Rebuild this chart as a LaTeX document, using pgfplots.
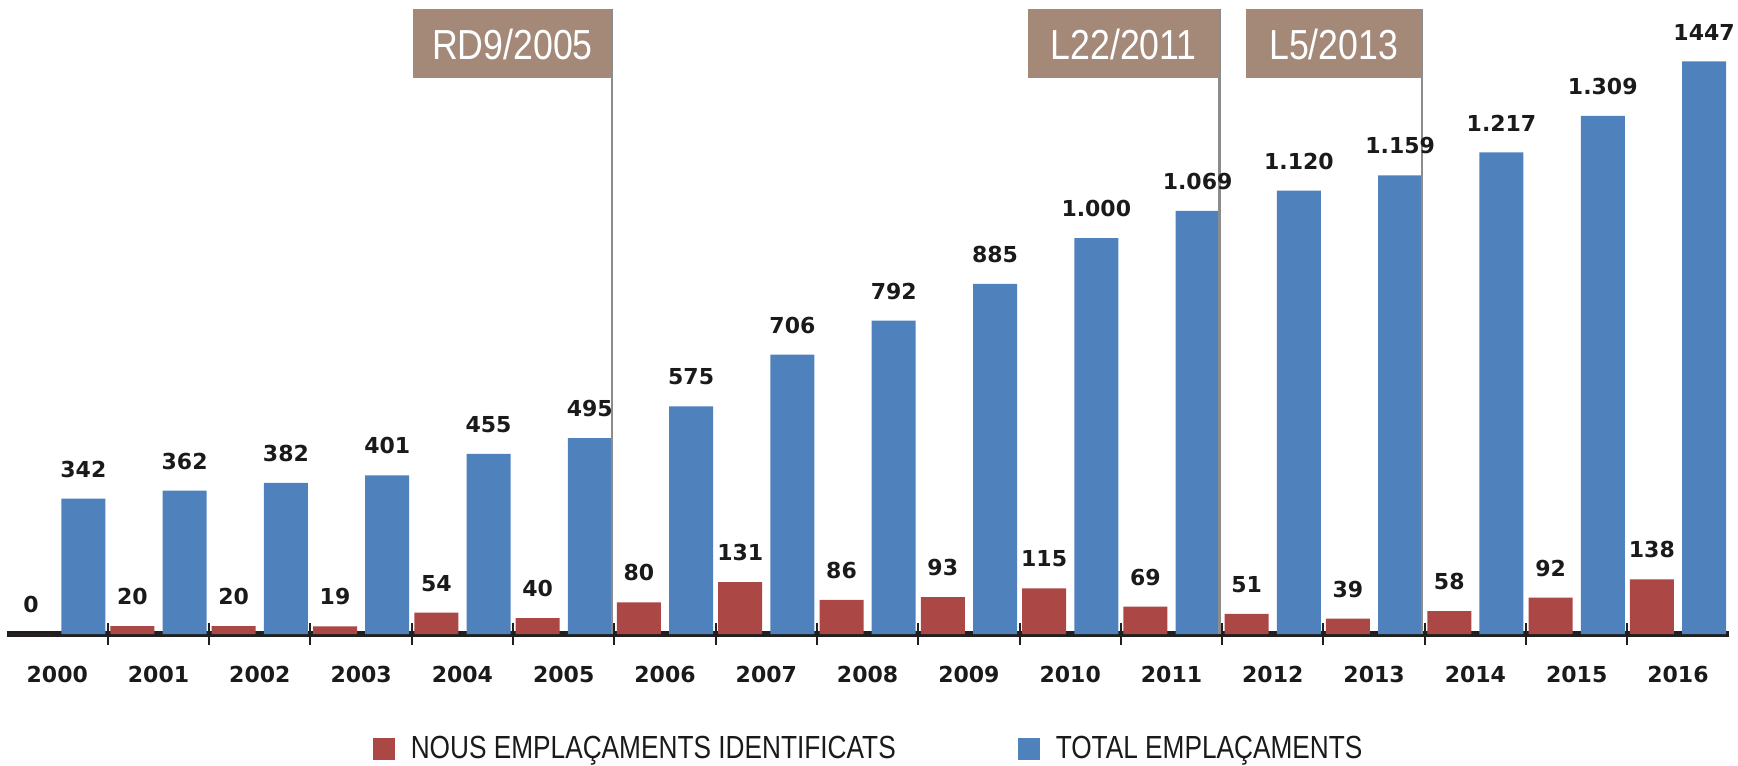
\documentclass[border=0pt]{standalone}
\usepackage{pgfplots}
\pgfplotsset{compat=1.18}
\usepackage{pgfplotstable}
\usepackage{graphicx}
\usepackage{fontspec}
\setmainfont{DejaVu Sans}
\newfontfamily\legfont{Liberation Sans}
\newfontfamily\boxfont[FakeStretch=0.85]{Liberation Sans}
\newcommand{\narrow}[1]{\scalebox{0.82}[1]{#1}}
\definecolor{newred}{HTML}{AB4745}
\definecolor{totblue}{HTML}{4F81BD}
\definecolor{boxbrown}{HTML}{A48979}
\definecolor{linegray}{HTML}{8C8C8C}
\definecolor{axisdark}{HTML}{1F1F1F}
\definecolor{txt}{HTML}{1A1A1A}
\pgfplotsset{sqlegend/.style={legend image code/.code={\fill[##1] (0pt,-5.5pt) rectangle (11pt,5.5pt);}}}

\pgfplotstableread{
x new newlab total totlab
0 0 0 342 342
1 20 20 362 362
2 20 20 382 382
3 19 19 401 401
4 54 54 455 455
5 40 40 495 495
6 80 80 575 575
7 131 131 706 706
8 86 86 792 792
9 93 93 885 885
10 115 115 1000 1.000
11 69 69 1069 1.069
12 51 51 1120 1.120
13 39 39 1159 1.159
14 58 58 1217 1.217
15 92 92 1309 1.309
16 138 138 1447 1447
}\datatable

\begin{document}
\begin{tikzpicture}
\useasboundingbox (0,0) rectangle (869pt,382.5pt);
\begin{axis}[
  at={(3.3pt,65.5pt)}, anchor=south west,
  scale only axis, width=861pt, height=317pt,
  xmin=-0.5, xmax=16.5, ymin=0, ymax=1602,
  clip=false,
  axis x line=bottom, axis y line=none,
  axis line style={-}, x axis line style={-, line width=3pt, color=axisdark},
  every outer x axis line/.append style={-},
  xtick={0,...,16},
  xticklabels={2000,2001,2002,2003,2004,2005,2006,2007,2008,2009,2010,2011,2012,2013,2014,2015,2016},
  minor xtick={0.5,1.5,...,15.5},
  major tick length=0pt, minor tick length=11pt, tick align=center,
  minor x tick style={line width=1pt, color=axisdark},
  xticklabel style={font=\bfseries\fontsize{11}{13}\selectfont, text=txt, anchor=north, inner sep=0pt, yshift=-16pt},
  ytick=\empty,
  nodes near coords={\pgfplotspointmeta},
  point meta=explicit symbolic,
  every node near coord/.append style={font=\bfseries\fontsize{11}{13}\selectfont, text=txt, anchor=south, inner sep=0pt, yshift=10.4pt},
  legend columns=2,
  legend style={at={(0.5,0)}, anchor=center, yshift=-57.5pt, draw=none, fill=none,
    font=\legfont\fontsize{16}{18}\selectfont, inner sep=0pt, nodes={inner sep=0pt, text=txt},
    /tikz/every odd column/.append style={column sep=8pt},
    /tikz/every even column/.append style={column sep=61pt}},
]
\addplot[ybar, bar width=22pt, bar shift=-13.05pt, fill=newred, draw=none, sqlegend,
  every node near coord/.append style={xshift=-13.05pt}]
  table[x=x, y=new, meta=newlab] {\datatable};
\addlegendentry{\narrow{NOUS EMPLA^^^^00c7AMENTS IDENTIFICATS}}
\addplot[ybar, bar width=22pt, bar shift=13.05pt, fill=totblue, draw=none, sqlegend,
  every node near coord/.append style={xshift=13.05pt}]
  table[x=x, y=total, meta=totlab] {\datatable};
\addlegendentry{\narrow{TOTAL EMPLA^^^^00c7AMENTS}}

\draw[linegray, line width=1.2pt] (axis cs:5.475,1579) -- (axis cs:5.475,0);
\draw[linegray, line width=1.2pt] (axis cs:11.475,1579) -- (axis cs:11.475,0);
\draw[linegray, line width=1.2pt] (axis cs:13.475,1579) -- (axis cs:13.475,0);
\node[fill=boxbrown, text=white, anchor=north east, minimum width=99pt, minimum height=34.5pt, inner sep=0pt, font=\boxfont\fontsize{21}{24}\selectfont] at (axis cs:5.475,1579) {RD9/2005};
\node[fill=boxbrown, text=white, anchor=north east, minimum width=95.5pt, minimum height=34.5pt, inner sep=0pt, font=\boxfont\fontsize{21}{24}\selectfont] at (axis cs:11.475,1579) {L22/2011};
\node[fill=boxbrown, text=white, anchor=north east, minimum width=88pt, minimum height=34.5pt, inner sep=0pt, font=\boxfont\fontsize{21}{24}\selectfont] at (axis cs:13.475,1579) {L5/2013};
\end{axis}
\end{tikzpicture}
\end{document}
